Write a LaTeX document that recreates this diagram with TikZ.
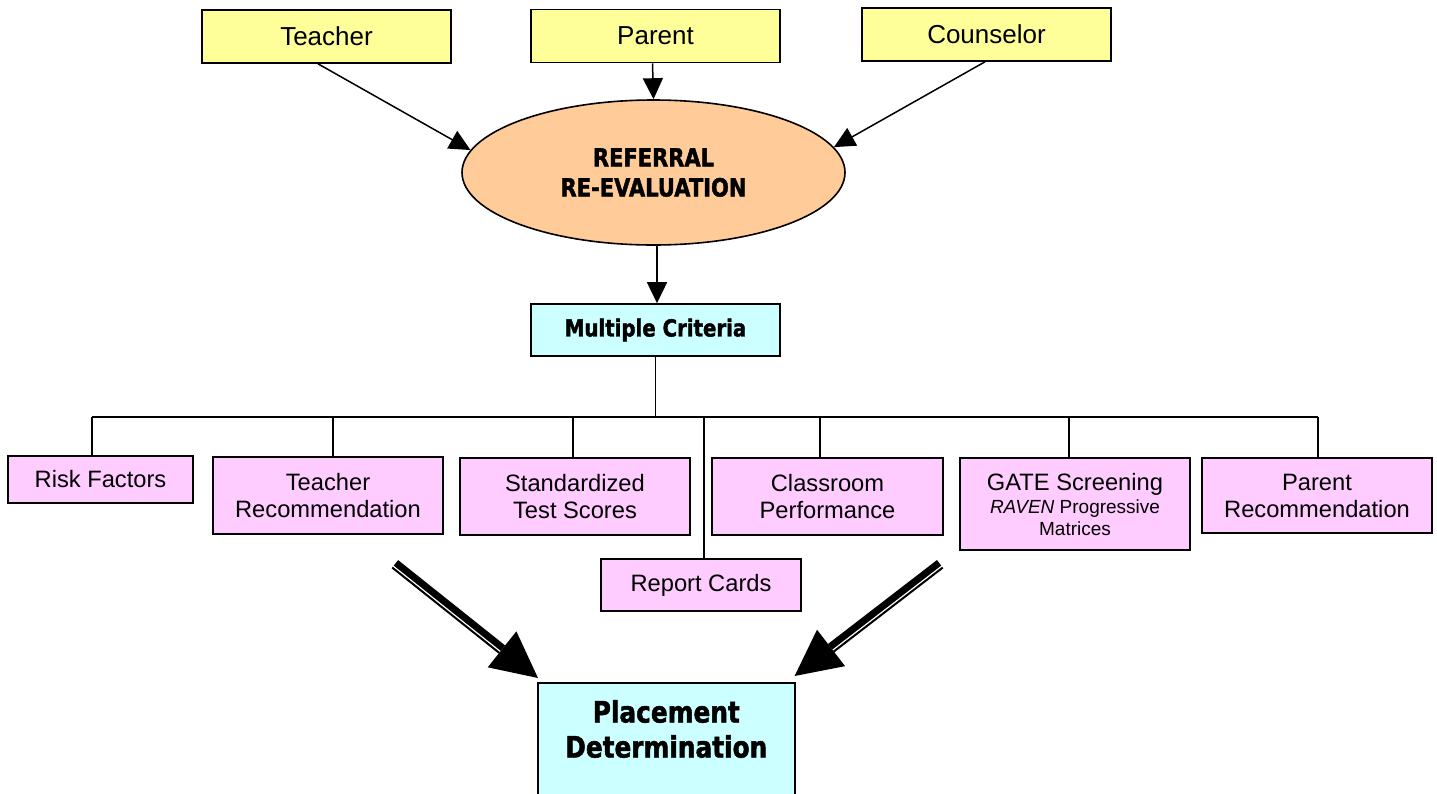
\documentclass[tikz,border=0pt]{standalone}
\usepackage{fontspec}
\setmainfont{Liberation Sans}
\newfontfamily\heavy{DejaVu Sans}[FakeStretch=0.84,FakeBold=1.6]
\usetikzlibrary{shapes.geometric,arrows.meta,calc}
\definecolor{yel}{HTML}{FFFF99}
\definecolor{peach}{HTML}{FFCC99}
\definecolor{cyanbox}{HTML}{CCFFFF}
\definecolor{pinkbox}{HTML}{FFCCFF}
\begin{document}
\begin{tikzpicture}[x=1pt,y=-1pt,
  ybox/.style={draw, line width=1.6pt, fill=yel, minimum width=249pt, minimum height=53pt, inner sep=0pt, font=\fontsize{26}{30}\selectfont},
  pbox/.style={draw, line width=1.6pt, fill=pinkbox, align=center, inner sep=0pt, font=\fontsize{23.7}{27}\selectfont},
  cbox/.style={draw, line width=1.6pt, fill=cyanbox, inner sep=0pt},
  conn/.style={line width=1.5pt},
  arr/.style={conn, -{Triangle[length=21pt,width=20pt]}},
]
\useasboundingbox (0,0) rectangle (1437,793);

% top sources
\node[ybox] (teacher) at (326.5,36.5) {Teacher};
\node[ybox] (parent) at (655.5,36) {Parent};
\node[ybox] (couns) at (986.5,34.5) {Counselor};

% referral ellipse
\node[ellipse, draw, line width=1.6pt, fill=peach, minimum width=383pt, minimum height=145pt,
  inner sep=0pt, align=center, font=\heavy\bfseries\fontsize{25}{30}\selectfont] (ref) at (653.5,172.5)
  {REFERRAL\\RE-EVALUATION};

\draw[arr] ([xshift=-8.5pt]teacher.south) -- (ref.173);
\draw[arr] ([xshift=-3pt]parent.south) -- (ref.north);
\draw[arr] ([xshift=-1.5pt]couns.south) -- (ref.8.5);

% multiple criteria
\node[cbox, minimum width=249pt, minimum height=52pt,
  font=\heavy\bfseries\fontsize{23.5}{27}\selectfont] (crit) at (655.5,330) {Multiple Criteria};
\draw[arr] ([xshift=3.5pt]ref.south) -- ([xshift=3.5pt]ref.south |- crit.north);

% criteria boxes
\node[pbox, minimum width=185pt, minimum height=47pt] (risk) at (100.5,479.5) {Risk Factors};
\node[pbox, minimum width=230pt, minimum height=77pt] (trec) at (328,495.5) {Teacher\\Recommendation};
\node[pbox, minimum width=230pt, minimum height=77pt] (std) at (575,496.5) {Standardized\\Test Scores};
\node[pbox, minimum width=231pt, minimum height=77pt] (class) at (827.5,496.5) {Classroom\\Performance};
\node[pbox, minimum width=230pt, minimum height=92pt] (gate) at (1075,504)
  {GATE Screening\\[-4pt]{\fontsize{19}{21}\selectfont\textit{RAVEN} Progressive}\\[-5pt]{\fontsize{19}{21}\selectfont Matrices}};
\node[pbox, minimum width=230pt, minimum height=75pt] (prec) at (1317,495.5) {Parent\\Recommendation};
\node[pbox, minimum width=200pt, minimum height=52pt] (rep) at (701,585) {Report Cards};

% tree connectors
\coordinate (bus) at (655,417);
\draw[conn] (crit.south) -- (crit.south |- bus);
\draw[conn] ([xshift=-8.5pt]risk.north |- bus) -- ([xshift=1pt]prec.north |- bus);
\draw[conn] ([xshift=-8.5pt]risk.north) -- ([xshift=-8.5pt]risk.north |- bus);
\draw[conn] ([xshift=5pt]trec.north) -- ([xshift=5pt]trec.north |- bus);
\draw[conn] ([xshift=-2pt]std.north) -- ([xshift=-2pt]std.north |- bus);
\draw[conn] ([xshift=3pt]rep.north) -- ([xshift=3pt]rep.north |- bus);
\draw[conn] ([xshift=-7.5pt]class.north) -- ([xshift=-7.5pt]class.north |- bus);
\draw[conn] ([xshift=-6pt]gate.north) -- ([xshift=-6pt]gate.north |- bus);
\draw[conn] ([xshift=1pt]prec.north) -- ([xshift=1pt]prec.north |- bus);

% placement
\node[cbox, minimum width=257pt, minimum height=160pt, anchor=north west] (place) at (537,682) {};
\node[font=\heavy\bfseries\fontsize{29.5}{35}\selectfont, align=center, inner sep=0pt] (placetxt)
  at ([yshift=-47pt]place.north) {Placement\\Determination};

% big compound arrows
\coordinate (L1s) at (395,564);
\coordinate (L1t) at ([xshift=1pt,yshift=4pt]place.north west);
\coordinate (L1b) at ($(L1t)!46pt!(L1s)$);
\draw[line width=7pt] ($(L1s)!1.5pt!90:(L1t)$) -- ($(L1b)!1.5pt!-90:(L1s)$);
\draw[line width=2pt] ($(L1s)!4.5pt!-90:(L1t)$) -- ($(L1b)!4.5pt!90:(L1s)$);
\fill ($(L1b)!23pt!90:(L1t)$) -- (L1t) -- ($(L1b)!23pt!-90:(L1t)$) -- cycle;

\coordinate (R1s) at (940,564);
\coordinate (R1t) at ([xshift=-1pt,yshift=6pt]place.north east);
\coordinate (R1b) at ($(R1t)!46pt!(R1s)$);
\draw[line width=7pt] ($(R1s)!1.5pt!-90:(R1t)$) -- ($(R1b)!1.5pt!90:(R1s)$);
\draw[line width=2pt] ($(R1s)!4.5pt!90:(R1t)$) -- ($(R1b)!4.5pt!-90:(R1s)$);
\fill ($(R1b)!23pt!90:(R1t)$) -- (R1t) -- ($(R1b)!23pt!-90:(R1t)$) -- cycle;
\end{tikzpicture}
\end{document}
